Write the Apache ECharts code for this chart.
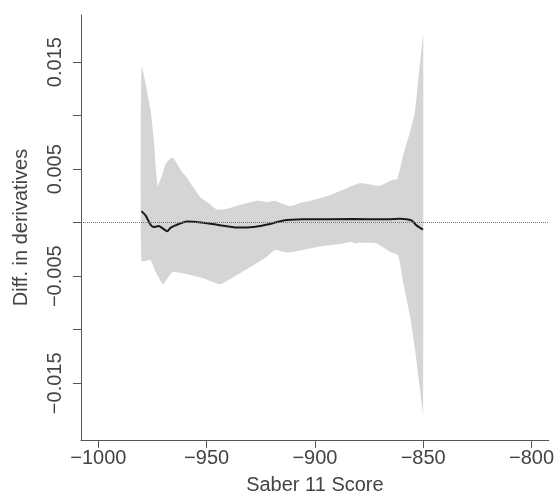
<!DOCTYPE html>
<html>
<head>
<meta charset="utf-8">
<script src="https://cdn.jsdelivr.net/npm/echarts@6/dist/echarts.min.js"></script>
<style>
  html, body { margin: 0; padding: 0; background: #fff; }
  #chart { width: 557px; height: 500px; }
</style>
</head>
<body>
<div id="chart"></div>
<script>
// difference in derivatives (black line)
const midX = [-980.1, -978.2, -975.9, -974.4, -972.1, -970.1, -968.2, -966.7, -964.4, -959.0, -951.4, -943.7, -936.0, -928.3, -920.7, -914.5, -905.3, -882.3, -866.9, -860.8, -855.4, -853.1, -850.1]
const midY = [0.00108, 0.00068, -0.00019, -0.0004, -0.0003, -0.00056, -0.0008, -0.00049, -0.00025, 0.00012, 0.0, -0.00025, -0.00046, -0.0004, -0.00012, 0.00021, 0.00031, 0.00034, 0.00031, 0.00037, 0.00021, -0.00025, -0.00065]

// confidence band, upper edge
const upX = [-980, -975.9, -974.4, -972.6, -970.4, -969.0, -966.7, -965.3, -964.4, -961.2, -959.0, -957.5, -952.9, -949.2, -945.2, -940.6, -934.5, -926.8, -922.2, -918.4, -916.0, -911.4, -906.8, -902.2, -897.6, -891.5, -879.2, -870.0, -864.6, -862.0, -859.3, -856.2, -853.9, -852.4, -850.8, -850]
const upY = [0.01456, 0.01056, 0.00778, 0.00345, 0.00454, 0.00546, 0.00599, 0.00606, 0.00575, 0.00472, 0.00420, 0.0037, 0.00238, 0.00184, 0.00123, 0.0013, 0.00167, 0.00206, 0.00192, 0.00206, 0.00185, 0.00155, 0.00185, 0.00206, 0.00229, 0.00269, 0.00368, 0.00345, 0.00398, 0.00407, 0.00623, 0.0084, 0.01025, 0.01303, 0.01611, 0.01766]

// confidence band, lower edge
const loX = [-980, -975.9, -973.6, -970.1, -965.9, -959.0, -951.4, -943.7, -936.0, -928.3, -922.2, -918.4, -913.0, -906.8, -897.6, -886.9, -883.0, -881.5, -879.2, -871.5, -865.4, -861.6, -859.3, -856.2, -853.9, -851.6, -850]
const loY = [-0.00358, -0.00349, -0.00456, -0.00574, -0.00463, -0.00481, -0.00519, -0.00574, -0.00488, -0.00395, -0.00318, -0.00256, -0.00278, -0.00259, -0.00222, -0.00194, -0.00179, -0.00194, -0.00188, -0.00194, -0.00271, -0.00303, -0.00549, -0.00858, -0.01167, -0.01537, -0.01784]

const xTicks = [-1000, -950, -900, -850, -800]
const yTicks = [-0.015, -0.01, -0.005, 0, 0.005, 0.01, 0.015]
const yLabels = [-0.015, -0.005, 0.005, 0.015]

const font = 'Liberation Sans, Arial, sans-serif'
const axisColor = '#555'
const textColor = '#444'
const minus = s => String(s).replace('-', '\u2212')

const chart = echarts.init(document.getElementById('chart'))

const option = {
  animation: false,
  grid: { left: 81, right: 7, top: 15, bottom: 56 },
  xAxis: {
    type: 'value',
    min: -1008,
    max: -792,
    name: 'Saber 11 Score',
    nameLocation: 'middle',
    nameGap: 35,
    nameTextStyle: { fontFamily: font, fontSize: 20, color: textColor },
    axisLine: { onZero: false, lineStyle: { color: axisColor, width: 1 } },
    axisTick: { show: true, customValues: xTicks, length: 8, inside: false, lineStyle: { color: axisColor } },
    axisLabel: {
      customValues: xTicks,
      margin: 8,
      fontFamily: font, fontSize: 20, color: textColor,
      formatter: v => minus(v)
    },
    splitLine: { show: false }
  },
  yAxis: {
    type: 'value',
    min: -0.0203,
    max: 0.0194,
    name: 'Diff. in derivatives',
    nameLocation: 'middle',
    nameGap: 50,
    nameTextStyle: { fontFamily: font, fontSize: 20, color: textColor },
    axisLine: { show: true, onZero: false, lineStyle: { color: axisColor, width: 1 } },
    axisTick: { show: true, customValues: yTicks, length: 8, lineStyle: { color: axisColor } },
    axisLabel: {
      customValues: yLabels,
      rotate: 90,
      margin: 16,
      fontFamily: font, fontSize: 20, color: textColor,
      formatter: v => minus(v.toFixed(3))
    },
    splitLine: { show: false }
  },
  series: [
    {
      // zero reference line, drawn under the band
      type: 'line',
      z: 1,
      data: [],
      markLine: {
        silent: true,
        symbol: 'none',
        label: { show: false },
        lineStyle: { type: 'dotted', color: '#777', width: 1 },
        data: [{ yAxis: 0 }]
      }
    },
    {
      type: 'custom',
      z: 2,
      data: [[-900, 0]],
      renderItem: (params, api) => {
        const pts = []
        upX.forEach((x, i) => pts.push(api.coord([x, upY[i]])))
        for (let i = loX.length - 1; i >= 0; i--) pts.push(api.coord([loX[i], loY[i]]))
        return {
          type: 'polygon',
          shape: { points: pts, smooth: 0.15 },
          style: { fill: '#d4d5d7', stroke: null }
        }
      }
    },
    {
      type: 'line',
      z: 3,
      showSymbol: false,
      smooth: 0.2,
      data: midX.map((x, i) => [x, midY[i]]),
      lineStyle: { color: '#1a1a1a', width: 2 }
    }
  ]
}

option && chart.setOption(option)
</script>
</body>
</html>
